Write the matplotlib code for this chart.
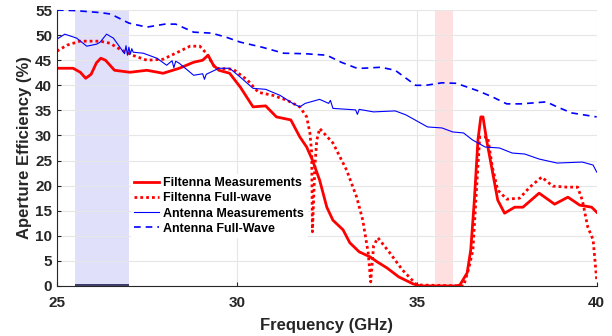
import matplotlib.pyplot as plt
import numpy as np

plt.rcParams['font.family'] = ['Liberation Sans', 'DejaVu Sans']
plt.rcParams['font.weight'] = 'bold'

# Antenna full-wave (blue dashed)
ant_fw_f = [25, 25.5, 26.2, 26.5, 27.0, 27.5, 28.0, 28.3, 28.8, 29.3, 29.7, 30.1, 30.7,
            31.3, 31.9, 32.5, 32.9, 33.3, 33.5, 34.0, 34.4, 34.97, 35.25, 35.7, 36.1,
            36.7, 37.1, 37.5, 37.9, 38.6, 38.9, 39.3, 40]
ant_fw_v = [55, 54.9, 54.5, 54.2, 52.4, 51.6, 52.2, 52.2, 50.6, 50.4, 49.6, 48.6, 47.6,
            46.4, 46.3, 46.0, 44.6, 43.5, 43.4, 43.6, 43.0, 40.0, 40.0, 40.5, 40.4,
            38.9, 37.7, 36.3, 36.3, 36.7, 35.7, 34.5, 33.7]

# Antenna measurements (blue solid)
ant_m_f = [25.0, 25.22, 25.55, 25.83, 26.1, 26.2, 26.38, 26.57, 26.75, 26.88, 26.92, 26.96,
           27.0, 27.04, 27.08, 27.12, 27.4, 27.78, 28.05, 28.2, 28.25, 28.3, 28.4, 28.8,
           29.05, 29.1, 29.15, 29.5, 29.8, 30.1, 30.45, 30.8, 31.2, 31.55, 31.75, 31.9,
           32.3, 32.55, 32.6, 32.67, 33.3, 33.35, 33.4, 33.8, 34.4, 34.7, 35.05, 35.3,
           35.7, 36.0, 36.3, 36.55, 36.9, 37.3, 37.65, 38.0, 38.4, 38.9, 39.6, 39.9, 40]
ant_m_v = [49.2, 50.2, 49.4, 47.8, 48.2, 48.6, 50.2, 49.4, 47.6, 46.3, 47.9, 46.0,
           47.6, 46.2, 47.3, 46.6, 46.4, 45.4, 44.0, 44.9, 43.5, 44.8, 44.4, 42.0,
           42.3, 41.2, 42.2, 43.4, 43.4, 41.6, 39.4, 39.2, 38.0, 36.4, 35.7, 36.4,
           37.2, 36.4, 37.0, 35.4, 35.1, 34.2, 35.2, 34.7, 34.9, 34.1, 32.7, 31.7,
           31.5, 30.7, 30.5, 29.1, 27.7, 27.5, 26.5, 26.3, 25.3, 24.5, 24.7, 24.1, 22.7]

# Filtenna measurements (red solid)
fil_m_f = [25, 25.45, 25.65, 25.8, 25.95, 26.1, 26.22, 26.35, 26.6, 27.03, 27.5, 27.95,
           28.4, 28.8, 29.05, 29.2, 29.35, 29.5, 29.8, 30.1, 30.45, 30.8, 31.1, 31.5,
           31.75, 31.94, 32.1, 32.3, 32.5, 32.67, 32.95, 33.14, 33.4, 33.7, 33.9, 34.17,
           34.5, 34.9, 35.1, 36.1, 36.2, 36.4, 36.5, 36.6, 36.7, 36.78, 36.84, 36.94,
           37.08, 37.25, 37.44, 37.72, 37.95, 38.4, 38.83, 39.2, 39.53, 39.86, 40]
fil_m_v = [43.4, 43.4, 42.6, 41.4, 42.2, 44.5, 45.4, 45.0, 43.0, 42.6, 43.0, 42.4,
           43.4, 44.6, 45.0, 46.0, 44.0, 43.0, 42.4, 39.6, 35.7, 35.9, 33.7, 33.1,
           29.7, 27.7, 25.1, 21.1, 15.7, 13.1, 11.2, 8.6, 6.8, 5.8, 4.8, 3.6,
           1.8, 0.4, 0, 0, 0.2, 2.6, 7.2, 17.1, 29.1, 33.7, 33.7, 29.1,
           23.7, 17.1, 14.5, 15.7, 15.7, 18.5, 16.3, 17.7, 16.1, 15.7, 14.7]

# Filtenna full-wave (red dotted)
fil_fw_f = [25, 25.28, 25.64, 26.2, 26.47, 26.75, 27.1, 27.5, 27.95, 28.3, 28.7, 28.97,
            29.15, 29.4, 29.9, 30.3, 30.6, 31.0, 31.4, 31.75, 31.94, 32.03, 32.08, 32.1,
            32.17, 32.22, 32.3, 32.67, 33.05, 33.33, 33.5, 33.65, 33.72, 33.8, 33.92,
            34.25, 34.6, 35.0, 36.3, 36.45, 36.56, 36.67, 36.75, 36.97, 37.1, 37.25,
            37.5, 37.86, 38.14, 38.47, 38.78, 39.17, 39.47, 39.6, 39.75, 39.9, 40]
fil_fw_v = [46.8, 48.0, 48.8, 48.8, 48.4, 47.2, 46.0, 45.0, 45.2, 46.4, 47.8, 47.8,
            46.4, 43.4, 43.2, 41.0, 38.6, 38.0, 37.0, 35.7, 33.7, 30.5, 26.5, 10.8,
            24.0, 29.0, 31.4, 28.5, 23.1, 17.7, 13.1, 6.6, 0.8, 8.0, 9.6,
            6.6, 3.2, 0.2, 0, 3.6, 7.2, 20.5, 29.7, 29.7, 23.7, 19.1,
            17.3, 17.5, 19.7, 21.7, 19.9, 19.7, 19.7, 17.1, 11.8, 9.2, 1.2]

blue_band = [25.5, 27.0]
red_band = [35.5, 36.0]

fig = plt.figure(figsize=(6.12, 3.36), dpi=100)
ax = fig.add_axes([0.093, 0.149, 0.882, 0.821])

ax.axvspan(blue_band[0], blue_band[1], color=(0.88, 0.88, 0.98), lw=0)
ax.axvspan(red_band[0], red_band[1], color=(1.0, 0.88, 0.88), lw=0)
ax.hlines(0.15, blue_band[0], blue_band[1], color='#1a1a4a', lw=1.2, zorder=1.2)

ax.plot(fil_m_f, fil_m_v, color='red', lw=2.0, label='Filtenna Measurements')
ax.plot(fil_fw_f, fil_fw_v, color='red', lw=2.0, ls=(0, (1, 1.1)), label='Filtenna Full-wave')
ax.plot(ant_m_f, ant_m_v, color='blue', lw=0.8, label='Antenna Measurements')
ax.plot(ant_fw_f, ant_fw_v, color='blue', lw=1.2, ls=(0, (4, 3)), label='Antenna Full-Wave')

ax.set_xlim(25, 40)
ax.set_ylim(0, 55)
ax.set_xticks([25, 30, 35, 40])
ax.set_yticks(np.arange(0, 56, 5))
ax.grid(True, color='#e6e6e6', lw=0.8)
ax.tick_params(direction='in', labelsize=11, colors='#262626', length=3)
ax.tick_params(axis='x', pad=7)
for lab in ax.get_xticklabels() + ax.get_yticklabels():
    lab.set_fontweight('bold')

ax.spines['top'].set_color('none')
ax.spines['right'].set_color('none')
ax.spines['left'].set_color('#262626')
ax.spines['bottom'].set_color('#262626')

ax.set_xlabel('Frequency (GHz)', fontsize=12, fontweight='bold', color='#262626', labelpad=6)
ax.set_ylabel('Aperture Efficiency (%)', fontsize=12, fontweight='bold', color='#262626', labelpad=2)

leg = ax.legend(loc='upper left', bbox_to_anchor=(0.125, 0.43), fontsize=9,
                handlelength=2.0, handletextpad=0.3, labelspacing=0.25,
                borderpad=0.3, framealpha=1, edgecolor='none', facecolor='white')
for t in leg.get_texts():
    t.set_fontweight('bold')

plt.savefig('out.png', dpi=100)
